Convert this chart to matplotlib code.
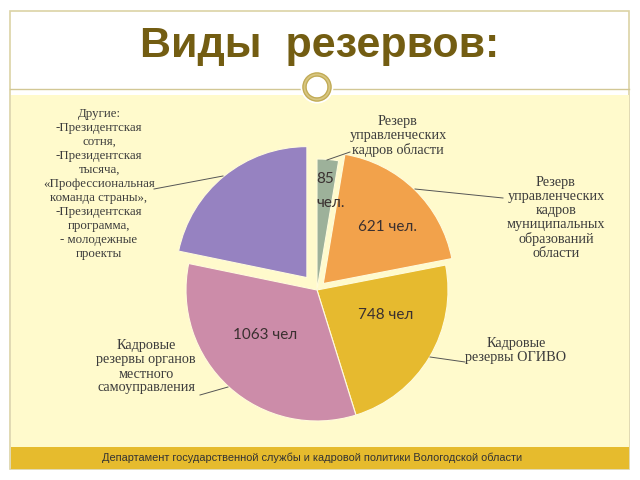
import matplotlib
matplotlib.use("Agg")
import matplotlib.pyplot as plt
from matplotlib.patches import Rectangle, Circle

# ---- data ----
categories = [
    "Резерв\nуправленческих\nкадров области",
    "Резерв\nуправленческих\nкадров\nмуниципальных\nобразований\nобласти",
    "Кадровые\nрезервы ОГИВО",
    "Кадровые\nрезервы органов\nместного\nсамоуправления",
    "Другие:\n-Президентская\nсотня,\n-Президентская\nтысяча,\n«Профессиональная\nкоманда страны»,\n-Президентская\nпрограмма,\n- молодежные\nпроекты",
]
values = [85, 621, 748, 1063, 700]
value_labels = ["85\nчел.", "621 чел.", "748 чел", "1063 чел", ""]
title = "Виды  резервов:"
footer = "Департамент государственной службы и кадровой политики Вологодской области"

colors = ["#9DB19A", "#F2A24B", "#E6BA2F", "#CC8CA9", "#9682C1"]
cream = "#FFFACC"
band = "#E6BB2D"
frame_col = "#DCD3A6"
title_col = "#735D12"

W, H = 640, 480
fig = plt.figure(figsize=(6.4, 4.8), dpi=100)
ax = fig.add_axes([0, 0, 1, 1])

def Y(y):
    return H - y

# slide background
ax.add_patch(Rectangle((10, Y(469)), 619, 458, facecolor="white", edgecolor=frame_col, lw=1.2, zorder=0))
ax.add_patch(Rectangle((10.6, Y(447)), 618, 352, facecolor=cream, edgecolor="none", zorder=0.1))
ax.add_patch(Rectangle((10.6, Y(468.5)), 618, 21.5, facecolor=band, edgecolor="none", zorder=0.1))
ax.plot([10, 629], [Y(89), Y(89)], color="#D2C795", lw=1.0, zorder=0.2)

# ornament circle
ax.add_patch(Circle((317, Y(87)), 16.5, facecolor="white", edgecolor="none", zorder=0.3))
ax.add_patch(Circle((317, Y(87)), 12.5, facecolor="none", edgecolor="#D8C680", lw=3.2, zorder=0.4))
ax.add_patch(Circle((317, Y(87)), 14.0, facecolor="none", edgecolor="#BFA955", lw=0.8, zorder=0.5))
ax.add_patch(Circle((317, Y(87)), 11.0, facecolor="none", edgecolor="#BFA955", lw=0.8, zorder=0.5))

# title
ax.text(320, Y(46), title, ha="center", va="center", fontsize=31, fontweight="bold",
        color=title_col, family=["Liberation Sans", "DejaVu Sans"])

# pie
explode = [0, 9, 0, 0, 16]
wedges, _ = ax.pie(values, colors=colors, startangle=90, counterclock=False,
                   explode=explode, radius=131, center=(317, Y(290)),
                   wedgeprops=dict(edgecolor="#FFFBDC", linewidth=0.8))

ax.set_xlim(0, W)
ax.set_ylim(0, H)
ax.set_aspect("auto")
ax.axis("off")

# value labels
val_pos = [(316, 191), (388, 227), (386, 315), (265, 335), (0, 0)]
val_ha = ["left", "center", "center", "center", "center"]
for lab, (x, y), ha in zip(value_labels, val_pos, val_ha):
    if lab:
        ax.text(x, Y(y), lab, ha=ha, va="center", fontsize=11, color="#3A3030",
                family=["Lato", "DejaVu Sans"], linespacing=1.85, multialignment="left")

# category labels
cat_pos = [(398, 136), (556, 218), (516, 351), (146, 367), (99, 184)]
cat_size = [10.3, 10.3, 10.3, 10.3, 9.3]
cat_ls = [1.1, 1.1, 1.1, 1.1, 1.22]
for lab, (x, y), fs, ls in zip(categories, cat_pos, cat_size, cat_ls):
    ax.text(x, Y(y), lab, ha="center", va="center", fontsize=fs, color="#3C3C3C",
            family=["Liberation Serif", "DejaVu Serif"], linespacing=ls)

# leader lines
leaders = [
    [(327, 160), (350, 152)],
    [(415, 189), (503, 198)],
    [(430, 357), (465, 362)],
    [(228, 387), (200, 395)],
    [(223, 176), (154, 189)],
]
for (x1, y1), (x2, y2) in leaders:
    ax.plot([x1, x2], [Y(y1), Y(y2)], color="#555555", lw=0.7)

# footer
ax.text(312, Y(457.5), footer, ha="center", va="center", fontsize=7.9, color="#333333",
        family=["Liberation Sans Narrow", "Liberation Sans", "DejaVu Sans"])

fig.savefig("out.png", dpi=100)
